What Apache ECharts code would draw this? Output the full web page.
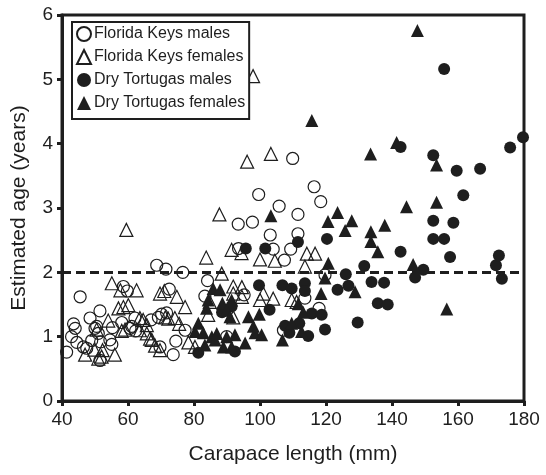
<!DOCTYPE html>
<html>
<head>
<meta charset="utf-8">
<script src="https://cdn.jsdelivr.net/npm/echarts@6/dist/echarts.min.js"></script>
<style>
  html, body { margin: 0; padding: 0; background: #fff; }
  #chart { width: 546px; height: 475px; }
</style>
</head>
<body>
<div id="chart"></div>
<script>
// [carapace length (mm), estimated age (years)]
const fkMales = [
  [41.4,0.76],[42.9,1.00],[43.5,1.20],[44.0,1.13],[44.5,0.91],[45.5,1.62],[46.5,0.84],[47.5,0.82],
  [48.5,1.29],[49.0,0.94],[50.0,1.13],[50.5,1.16],[51.0,1.05],[51.5,1.40],[51.7,0.92],[51.5,0.63],
  [54.5,0.95],[55.1,0.88],[55.3,1.14],[58.1,1.22],[58.6,1.78],[59.8,1.71],[60.6,1.13],[61.1,1.16],
  [62.1,1.29],[62.3,1.09],[67.0,1.26],[68.7,2.11],[69.2,1.30],[69.7,0.84],[70.2,1.35],[71.5,2.05],
  [71.7,1.37],[72.5,1.74],[73.7,0.72],[74.5,0.93],[76.6,2.00],[77.3,1.10],[83.3,1.63],[84.1,1.87],
  [89.9,1.00],[93.4,2.75],[93.5,2.37],[95.2,1.65],[97.7,2.78],[99.6,3.21],[103.1,2.58],[104.0,2.36],
  [105.8,3.03],[107.1,1.10],[107.4,2.19],[109.3,2.36],[109.9,3.77],[111.5,2.90],[111.5,2.60],
  [113.6,1.60],[116.4,3.33],[117.9,1.44],[118.4,3.10],[119.7,1.96]
]
const fkFemales = [
  [47.0,0.72],[49.8,0.80],[50.5,1.11],[51.0,0.66],[52.0,0.69],[52.3,0.79],[54.0,1.25],[55.1,1.83],
  [56.0,0.72],[57.1,1.44],[57.7,1.72],[58.1,1.09],[58.6,1.46],[59.1,1.11],[59.5,2.66],[60.1,1.49],
  [62.6,1.72],[63.6,1.10],[63.6,1.29],[64.6,1.26],[65.7,1.05],[65.7,1.18],[66.7,0.97],[67.2,0.95],
  [68.2,0.86],[69.7,0.79],[69.7,1.67],[71.0,1.71],[71.3,1.30],[72.2,1.28],[74.2,1.29],[74.8,1.62],
  [75.5,1.20],[77.3,1.46],[78.3,0.91],[80.3,0.84],[83.7,2.23],[84.3,1.34],[84.8,1.54],[87.7,2.90],
  [88.4,1.98],[91.4,2.35],[91.9,1.78],[91.9,1.67],[91.9,1.30],[94.4,2.30],[94.5,1.77],[94.5,1.62],
  [96.1,3.72],[97.9,5.05],[100.0,2.20],[100.0,1.57],[101.0,1.67],[103.3,3.84],[104.0,1.59],
  [104.5,2.18],[109.6,1.57],[111.1,1.54],[113.6,2.09],[114.2,2.29],[116.7,2.29]
]
const dtMales = [
  [81.3,0.75],[88.5,1.38],[91.4,1.47],[92.4,0.77],[95.7,2.37],[99.7,1.80],[101.6,2.37],[102.9,1.42],
  [106.8,1.80],[107.6,1.17],[108.9,1.06],[109.6,1.75],[111.5,2.47],[111.9,1.21],[113.6,1.83],
  [113.6,1.71],[114.6,1.01],[115.7,1.36],[118.7,1.34],[119.7,1.11],[120.3,2.52],[123.5,1.73],
  [126.0,1.97],[126.8,1.79],[129.6,1.22],[131.6,2.10],[133.8,1.85],[135.7,1.52],[137.6,1.84],
  [138.7,1.50],[142.6,2.32],[142.6,3.95],[147.0,1.92],[149.5,2.04],[152.5,3.82],[152.5,2.80],
  [152.5,2.52],[155.8,2.52],[155.8,5.16],[157.6,2.24],[158.6,2.77],[159.6,3.58],[161.6,3.20],
  [166.7,3.61],[171.5,2.11],[172.4,2.26],[173.3,1.90],[175.8,3.94],[179.7,4.10]
]
const dtFemales = [
  [80.3,1.08],[81.3,1.21],[82.8,1.06],[83.3,0.87],[83.8,1.44],[84.3,1.57],[85.4,1.00],[85.8,1.75],
  [86.4,0.95],[86.9,1.05],[87.9,1.73],[88.6,1.52],[88.9,0.84],[89.9,1.41],[89.9,1.00],[90.9,1.31],
  [91.4,1.57],[91.4,0.84],[92.4,1.03],[95.5,0.90],[96.5,1.31],[98.0,1.16],[98.5,1.06],[99.8,1.35],
  [100.5,1.03],[103.3,2.88],[106.8,0.95],[109.6,1.21],[111.6,1.51],[112.6,1.08],[113.1,1.38],
  [115.7,4.36],[118.5,1.67],[119.7,1.91],[120.6,2.79],[120.7,2.14],[123.5,2.93],[125.8,2.65],
  [127.8,2.80],[128.8,1.70],[133.5,3.84],[133.6,2.63],[133.6,2.48],[135.7,2.32],[137.8,2.73],
  [141.4,4.02],[144.4,3.02],[146.4,2.12],[147.7,5.76],[153.5,3.67],[153.5,3.09],[156.6,1.43]
]
const seriesNames = ['Florida Keys males', 'Florida Keys females', 'Dry Tortugas males', 'Dry Tortugas females']
const cutoffAge = 2

const ink = '#1e1e1e'
const font = 'Liberation Sans, Arial, sans-serif'

// scatter defaults to 0.8 opacity, the original is solid
const openStyle = { color: 'rgba(255,255,255,0)', borderColor: ink, borderWidth: 1.2, opacity: 1 }
const filledStyle = { color: ink, borderColor: ink, borderWidth: 0, opacity: 1 }

const chart = echarts.init(document.getElementById('chart'))

chart.setOption({
  animation: false,
  backgroundColor: '#fff',
  textStyle: { fontFamily: font, color: ink },
  grid: {
    left: 62, right: 22, top: 15, bottom: 74,
    show: true, borderColor: ink, borderWidth: 3
  },
  legend: {
    orient: 'vertical',
    left: 72, top: 22,
    padding: [4, 4, 8, 4],
    itemGap: 7,
    itemWidth: 14, itemHeight: 14,
    borderColor: ink, borderWidth: 2, borderRadius: 0,
    backgroundColor: '#fff',
    textStyle: { fontFamily: font, fontSize: 16, color: ink, padding: [0, 0, 0, -2] },
    data: seriesNames
  },
  xAxis: {
    type: 'value',
    min: 40, max: 180, interval: 20,
    name: 'Carapace length (mm)',
    nameLocation: 'middle', nameGap: 43,
    nameTextStyle: { fontFamily: font, fontSize: 21, color: ink },
    axisLine: { lineStyle: { color: ink, width: 3 } },
    axisTick: { length: 5, lineStyle: { color: ink, width: 3 } },
    axisLabel: { fontFamily: font, fontSize: 19, color: ink, margin: 9 },
    splitLine: { show: false }
  },
  yAxis: {
    type: 'value',
    min: 0, max: 6, interval: 1,
    name: 'Estimated age (years)',
    nameLocation: 'middle', nameGap: 32,
    nameTextStyle: { fontFamily: font, fontSize: 21, color: ink },
    axisLine: { lineStyle: { color: ink, width: 3 } },
    axisTick: { length: 5, lineStyle: { color: ink, width: 3 } },
    axisLabel: { fontFamily: font, fontSize: 19, color: ink, margin: 9 },
    splitLine: { show: false }
  },
  series: [
    {
      name: seriesNames[0], type: 'scatter', symbol: 'circle', symbolSize: 12,
      itemStyle: openStyle, data: fkMales,
      markLine: {
        silent: true, symbol: 'none', label: { show: false },
        lineStyle: { color: ink, width: 3, type: [9, 5], opacity: 1 },
        data: [{ yAxis: cutoffAge }]
      }
    },
    {
      name: seriesNames[1], type: 'scatter', symbol: 'triangle', symbolSize: 13,
      itemStyle: openStyle, data: fkFemales
    },
    {
      name: seriesNames[2], type: 'scatter', symbol: 'circle', symbolSize: 12,
      itemStyle: filledStyle, data: dtMales
    },
    {
      name: seriesNames[3], type: 'scatter', symbol: 'triangle', symbolSize: 13,
      itemStyle: filledStyle, data: dtFemales
    }
  ]
})
</script>
</body>
</html>
